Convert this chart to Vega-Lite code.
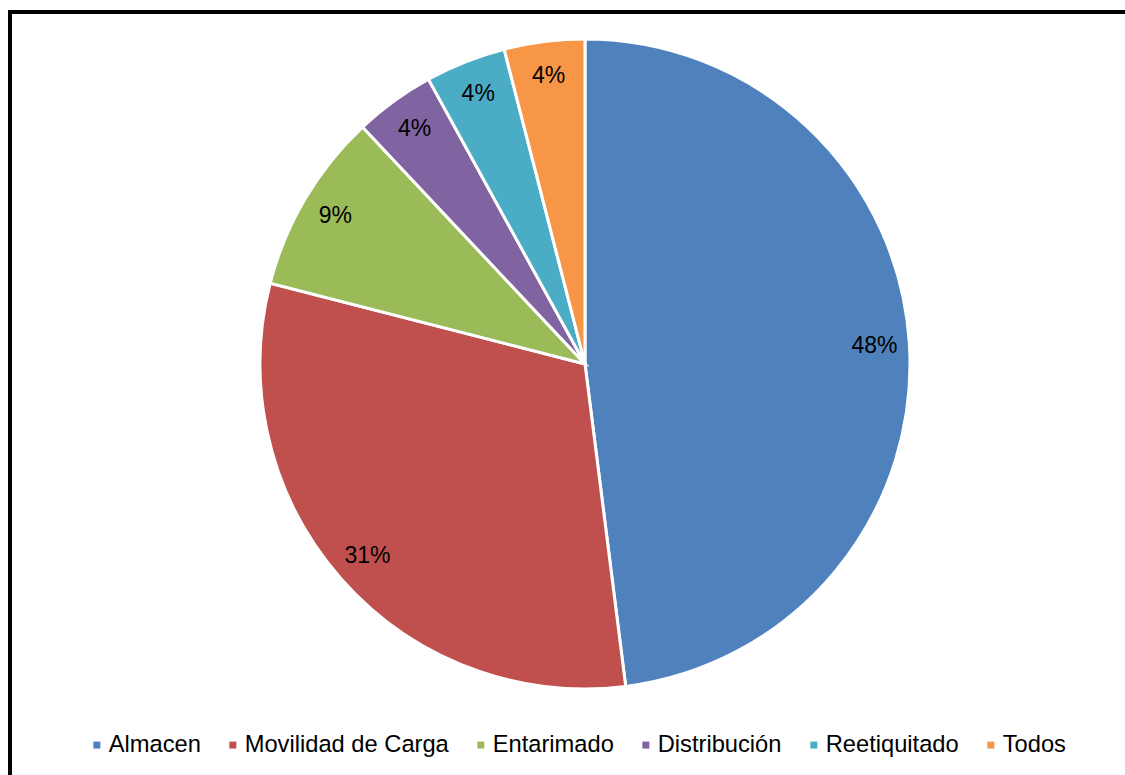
{
  "$schema": "https://vega.github.io/schema/vega-lite/v6.json",
  "width": 1120,
  "height": 770,
  "autosize": {"type": "none"},
  "padding": {"left": 10, "top": 12, "right": 0, "bottom": 0},
  "background": "white",
  "config": {
    "view": {"stroke": "black", "strokeWidth": 4},
    "font": "Liberation Sans"
  },
  "data": {
    "values": [
      {"idx": 1, "cat": "Almacen", "pct": 0.48},
      {"idx": 2, "cat": "Movilidad de Carga", "pct": 0.31},
      {"idx": 3, "cat": "Entarimado", "pct": 0.09},
      {"idx": 4, "cat": "Distribución", "pct": 0.04},
      {"idx": 5, "cat": "Reetiquitado", "pct": 0.04},
      {"idx": 6, "cat": "Todos", "pct": 0.04}
    ]
  },
  "layer": [
    {
      "mark": {"type": "rect", "fill": null, "fillOpacity": 0, "stroke": "black", "strokeWidth": 4},
      "data": {"values": [{"frame": 1}]},
      "encoding": {}
    },
    {
      "mark": {"type": "arc", "outerRadius": 325, "stroke": "white", "strokeWidth": 3, "x": 575, "y": 352},
      "encoding": {
        "theta": {"field": "pct", "type": "quantitative", "stack": true},
        "order": {"field": "idx", "type": "quantitative"},
        "color": {
          "field": "cat",
          "type": "nominal",
          "scale": {
            "domain": ["Almacen", "Movilidad de Carga", "Entarimado", "Distribución", "Reetiquitado", "Todos"],
            "range": ["#4F81BD", "#C0504D", "#9BBB59", "#8064A2", "#4BACC6", "#F79646"]
          },
          "legend": {
            "orient": "none",
            "direction": "horizontal",
            "columns": 6,
            "legendX": 75,
            "legendY": 721,
            "title": null,
            "padding": 0,
            "symbolType": "square",
            "symbolSize": 49,
            "symbolStrokeWidth": 0,
            "labelFontSize": 23.7,
            "labelFont": "Liberation Sans",
            "labelColor": "black",
            "labelOffset": 0,
            "labelLimit": 500,
            "columnPadding": 20
          }
        }
      }
    },
    {
      "mark": {"type": "text", "radius": 290, "fontSize": 23, "x": 575, "y": 352, "font": "Liberation Sans", "color": "black"},
      "encoding": {
        "theta": {"field": "pct", "type": "quantitative", "stack": true},
        "order": {"field": "idx", "type": "quantitative"},
        "text": {"field": "pct", "type": "quantitative", "format": ".0%"}
      }
    }
  ]
}
